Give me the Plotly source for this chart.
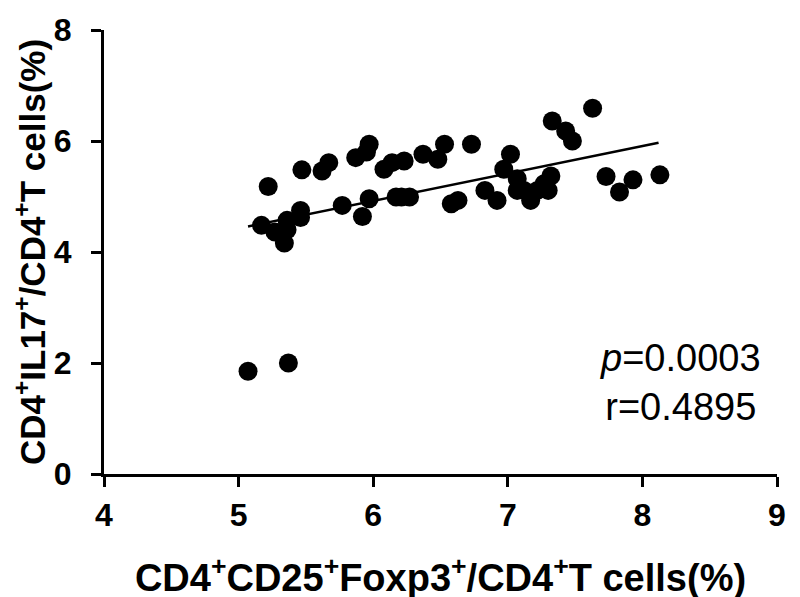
import plotly.graph_objects as go

# Scatter data
treg_pct = [5.07, 5.37, 5.22, 5.47, 5.62, 5.67, 5.87, 5.97, 5.95, 6.08,
            6.14, 6.23, 6.37, 6.48, 6.53, 6.73, 5.17, 5.27, 5.36, 5.34,
            5.36, 5.46, 5.46, 5.77, 5.97, 5.92, 6.17, 6.27, 6.21, 6.58,
            6.63, 6.83, 6.92, 7.02, 6.97, 7.07, 7.07, 7.17, 7.22, 7.27,
            7.32, 7.30, 7.12, 7.33, 7.43, 7.48, 7.63, 7.73, 7.83, 7.93,
            8.13]
th17_pct = [1.85, 2.00, 5.18, 5.48, 5.46, 5.61, 5.70, 5.94, 5.80, 5.49,
            5.61, 5.64, 5.76, 5.67, 5.94, 5.94, 4.48, 4.36, 4.57, 4.16,
            4.40, 4.75, 4.62, 4.84, 4.96, 4.64, 4.99, 4.99, 4.99, 4.87,
            4.93, 5.11, 4.93, 5.76, 5.49, 5.32, 5.11, 4.93, 5.11, 5.23,
            5.37, 5.11, 5.11, 6.36, 6.18, 6.00, 6.59, 5.36, 5.08, 5.30,
            5.39]

# Regression line end points
fit_x = [5.07, 8.12]
fit_y = [4.46, 5.97]

x_ticks = [4, 5, 6, 7, 8, 9]
y_ticks = [0, 2, 4, 6, 8]

font_family = "Liberation Sans, Arial, sans-serif"

fig = go.Figure()
fig.add_trace(go.Scatter(
    x=fit_x, y=fit_y, mode="lines",
    line=dict(color="black", width=2.5), showlegend=False, hoverinfo="skip"))
fig.add_trace(go.Scatter(
    x=treg_pct, y=th17_pct, mode="markers",
    marker=dict(color="black", size=19, line=dict(width=0)), showlegend=False))

fig.add_annotation(
    x=0.856, y=0.205, xref="paper", yref="paper", xanchor="center", yanchor="middle",
    text="<i>p</i>=0.0003<br>r=0.4895", showarrow=False, align="center",
    font=dict(family=font_family, size=38, color="black"))

axis_common = dict(
    showgrid=False, zeroline=False, showline=True, linecolor="black", linewidth=3,
    ticks="outside", ticklen=10, tickwidth=3, tickcolor="black", automargin=False,
    tickfont=dict(family=font_family, size=32, color="black", weight="bold"),
)

# page body has an 8px margin, so the plot area is offset accordingly
fig.update_layout(
    width=800, height=597,
    plot_bgcolor="white", paper_bgcolor="white",
    margin=dict(l=96, r=31, t=22, b=131),
    xaxis=dict(range=[4, 9], tickvals=x_ticks, ticklabelstandoff=1, **axis_common,
               title=dict(text="CD4<sup>+</sup>CD25<sup>+</sup>Foxp3<sup>+</sup>/CD4<sup>+</sup>T cells(%)",
                          font=dict(family=font_family, size=38, color="black", weight="bold"),
                          standoff=32)),
    yaxis=dict(range=[0, 8], tickvals=y_ticks, ticklabelstandoff=13, **axis_common,
               title=dict(text="CD4<sup>+</sup>IL17<sup>+</sup>/CD4<sup>+</sup>T cells(%)",
                          font=dict(family=font_family, size=35, color="black", weight="bold"),
                          standoff=0)),
)

fig.write_html("out.html")
